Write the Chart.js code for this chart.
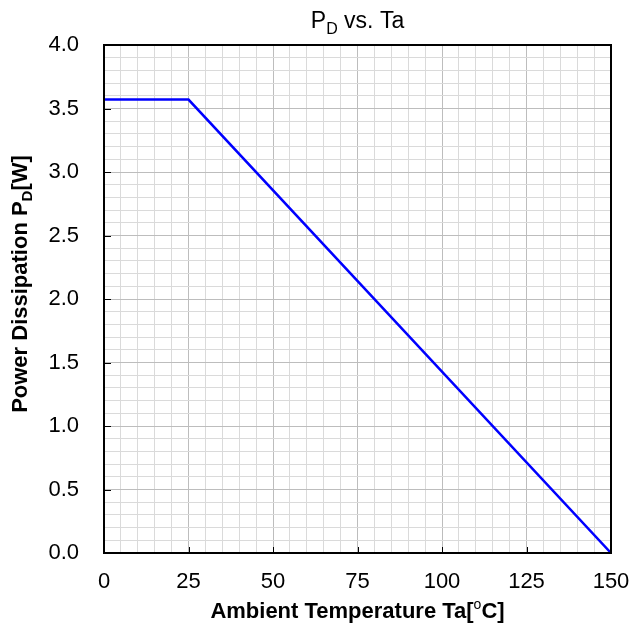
<!DOCTYPE html>
<html>
<head>
<meta charset="utf-8">
<script src="https://cdn.jsdelivr.net/npm/chart.js@4/dist/chart.umd.min.js"></script>
<style>
html,body{margin:0;padding:0;background:#fff;}
#wrap{width:633px;height:630px;position:relative;}
</style>
</head>
<body>
<div id="wrap"><canvas id="c" width="633" height="630"></canvas></div>
<script>
// Data
const temperature = [0, 25, 150];          // Ta [°C]
const powerDissipation = [3.57, 3.57, 0];  // PD [W]
const xMajorTicks = [0, 25, 50, 75, 100, 125, 150];
const yMajorTicks = [0.0, 0.5, 1.0, 1.5, 2.0, 2.5, 3.0, 3.5, 4.0];

const FONT = '"Liberation Sans", Arial, sans-serif';
const MINOR = '#dadada';
const MAJOR = '#bdbdbd';

const isMajorX = v => xMajorTicks.some(t => Math.abs(t - v) < 1e-6);
const isMajorY = v => yMajorTicks.some(t => Math.abs(t - v) < 1e-6);

const decorPlugin = {
  id: 'decor',
  afterDatasetsDraw(chart) {
    const {ctx, chartArea: a, scales} = chart;
    ctx.save();
    // frame
    ctx.strokeStyle = '#000';
    ctx.lineWidth = 2;
    ctx.strokeRect(a.left, a.top, a.right - a.left, a.bottom - a.top);
    // inner tick marks
    ctx.lineWidth = 1;
    ctx.beginPath();
    xMajorTicks.forEach(v => {
      const px = Math.round(scales.x.getPixelForValue(v)) + 0.5;
      ctx.moveTo(px, a.bottom); ctx.lineTo(px, a.bottom - 6);
    });
    yMajorTicks.forEach(v => {
      const py = Math.round(scales.y.getPixelForValue(v)) + 0.5;
      ctx.moveTo(a.left, py); ctx.lineTo(a.left + 7, py);
    });
    ctx.stroke();

    ctx.fillStyle = '#000';
    ctx.textBaseline = 'alphabetic';
    ctx.textAlign = 'left';
    const cx = (a.left + a.right) / 2;

    // Title: P_D vs. Ta
    ctx.font = '23px ' + FONT;
    const wP = ctx.measureText('P').width;
    const wRest = ctx.measureText(' vs. Ta').width;
    ctx.font = '16px ' + FONT;
    const wD = ctx.measureText('D').width;
    let x0 = cx - (wP + wD + wRest) / 2;
    ctx.font = '23px ' + FONT;
    ctx.fillText('P', x0, 28);
    ctx.font = '16px ' + FONT;
    ctx.fillText('D', x0 + wP, 34);
    ctx.font = '23px ' + FONT;
    ctx.fillText(' vs. Ta', x0 + wP + wD, 28);

    // X title: Ambient Temperature Ta[°C]
    ctx.font = 'bold 22px ' + FONT;
    const t1 = 'Ambient Temperature Ta[';
    const t2 = 'C]';
    const w1 = ctx.measureText(t1).width;
    const w2 = ctx.measureText(t2).width;
    ctx.font = '14px ' + FONT;
    const wo = ctx.measureText('o').width;
    x0 = cx - (w1 + wo + w2) / 2;
    ctx.font = 'bold 22px ' + FONT;
    ctx.fillText(t1, x0, 618);
    ctx.font = '14px ' + FONT;
    ctx.fillText('o', x0 + w1, 609);
    ctx.font = 'bold 22px ' + FONT;
    ctx.fillText(t2, x0 + w1 + wo, 618);

    // Y title: Power Dissipation P_D[W]
    ctx.translate(27, 284);
    ctx.rotate(-Math.PI / 2);
    ctx.font = 'bold 22px ' + FONT;
    const y1 = 'Power Dissipation P';
    const y2 = '[W]';
    const wy1 = ctx.measureText(y1).width;
    const wy2 = ctx.measureText(y2).width;
    ctx.font = 'bold 15px ' + FONT;
    const wyD = ctx.measureText('D').width;
    x0 = -(wy1 + wyD + wy2) / 2;
    ctx.font = 'bold 22px ' + FONT;
    ctx.fillText(y1, x0, 0);
    ctx.font = 'bold 15px ' + FONT;
    ctx.fillText('D', x0 + wy1, 5);
    ctx.font = 'bold 22px ' + FONT;
    ctx.fillText(y2, x0 + wy1 + wyD, 0);
    ctx.restore();
  }
};

new Chart(document.getElementById('c'), {
  type: 'scatter',
  data: {
    datasets: [{
      data: temperature.map((t, i) => ({x: t, y: powerDissipation[i]})),
      showLine: true,
      borderColor: '#0000ff',
      borderWidth: 2.5,
      pointRadius: 0,
      fill: false,
      tension: 0
    }]
  },
  options: {
    responsive: false,
    animation: false,
    devicePixelRatio: 1,
    layout: {padding: {top: 45, right: 22, left: 0, bottom: 0}},
    plugins: {legend: {display: false}, tooltip: {enabled: false}, title: {display: false}},
    scales: {
      x: {
        type: 'linear', min: 0, max: 150,
        afterFit(s) { s.height = 77; s.paddingLeft = 0; s.paddingRight = 0; },
        ticks: {
          stepSize: 5, autoSkip: false, maxRotation: 0, minRotation: 0,
          color: '#000', font: {family: FONT, size: 22}, padding: 16,
          callback: v => isMajorX(v) ? String(Math.round(v)) : ''
        },
        grid: {
          drawTicks: false,
          color: c => isMajorX(c.tick.value) ? MAJOR : MINOR,
          lineWidth: 1
        },
        border: {display: true, color: '#000', width: 2}
      },
      y: {
        type: 'linear', min: 0, max: 4,
        afterFit(s) { s.width = 104; s.paddingTop = 0; s.paddingBottom = 0; },
        ticks: {
          stepSize: 0.1, autoSkip: false,
          color: '#000', font: {family: FONT, size: 22}, padding: 25,
          callback: v => isMajorY(v) ? Number(v).toFixed(1) : ''
        },
        grid: {
          drawTicks: false,
          color: c => isMajorY(c.tick.value) ? MAJOR : MINOR,
          lineWidth: 1
        },
        border: {display: true, color: '#000', width: 2}
      }
    }
  },
  plugins: [decorPlugin]
});
</script>
</body>
</html>
